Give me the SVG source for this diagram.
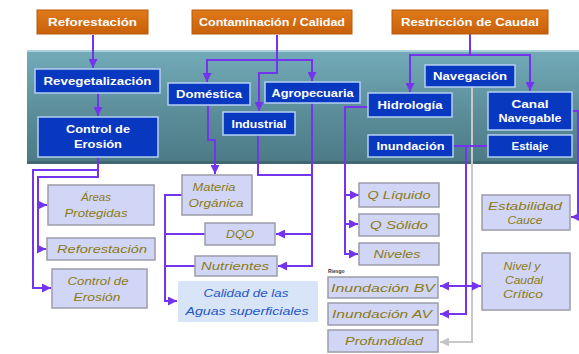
<svg xmlns="http://www.w3.org/2000/svg" width="579" height="354" viewBox="0 0 579 354">
<defs>
<linearGradient id="pg" x1="0" y1="0" x2="0" y2="1">
<stop offset="0" stop-color="#74abb9"/>
<stop offset="0.5" stop-color="#5d909c"/>
<stop offset="1" stop-color="#4b7a84"/>
</linearGradient>
<linearGradient id="og" x1="0" y1="0" x2="0" y2="1">
<stop offset="0" stop-color="#e07a18"/>
<stop offset="1" stop-color="#c8600a"/>
</linearGradient>
<marker id="a" viewBox="0 0 10 10" refX="10" refY="5" markerWidth="9" markerHeight="9" markerUnits="userSpaceOnUse" orient="auto">
<path d="M0,0 L10,5 L0,10 z" fill="#7433ec"/>
</marker>
<marker id="g" viewBox="0 0 10 10" refX="10" refY="5" markerWidth="9" markerHeight="9" markerUnits="userSpaceOnUse" orient="auto">
<path d="M0,0 L10,5 L0,10 z" fill="#c4c4c4"/>
</marker>
</defs>
<style>
.or{fill:url(#og);stroke:#b85a0c;stroke-width:1}
.bl{fill:#0838c0;stroke:#b4d0f4;stroke-width:1.5}
.li{fill:#d2d6f6;stroke:#9c9caa;stroke-width:1.5}
.cq{fill:#d8e5f9}
.tw{font-family:"Liberation Sans",Arial,sans-serif;font-size:10px;font-weight:bold;fill:#ffffff;text-anchor:middle}
.ty{font-family:"Liberation Sans",Arial,sans-serif;font-size:10px;fill:#8a7a14;font-style:italic;text-anchor:middle}
.tb{font-family:"Liberation Sans",Arial,sans-serif;font-size:10.5px;fill:#1f55c8;font-style:italic;text-anchor:middle}
.c{fill:none;stroke:#7433ec;stroke-width:2}
.cg{fill:none;stroke:#c8c8c8;stroke-width:2}
</style>
<rect x="0" y="0" width="579" height="354" fill="#ffffff"/>
<rect x="27" y="50" width="552" height="114" fill="url(#pg)"/>
<rect x="27" y="50" width="552" height="2" fill="#a9d2dc"/>
<rect x="27" y="161" width="552" height="3" fill="#3f6870"/>
<g id="connectors">
<path class="c" d="M93,35 V68" marker-end="url(#a)"/>
<path class="c" d="M98,93 V116" marker-end="url(#a)"/>
<path class="c" d="M98,157 V170 H33 V288 H51" marker-end="url(#a)"/>
<path class="c" d="M98,170 V177 H38 V249 H46" marker-end="url(#a)"/>
<path class="c" d="M38,205 H47" marker-end="url(#a)"/>
<path class="c" d="M277,35 V60 H207 V82" marker-end="url(#a)"/>
<path class="c" d="M277,60 H312 V81" marker-end="url(#a)"/>
<path class="c" d="M277,60 V73 H259 V111" marker-end="url(#a)"/>
<path class="c" d="M208,105 V140 H215 V174" marker-end="url(#a)"/>
<path class="c" d="M258,135 V175 H312"/>
<path class="c" d="M312,103 V266 H278" marker-end="url(#a)"/>
<path class="c" d="M312,234 H276" marker-end="url(#a)"/>
<path class="c" d="M182,195 H165 V301 H177" marker-end="url(#a)"/>
<path class="c" d="M205,234 H165"/>
<path class="c" d="M195,266 H165"/>
<path class="c" d="M470,34 V55 H410 V92" marker-end="url(#a)"/>
<path class="c" d="M470,55 H530 V91" marker-end="url(#a)"/>
<path class="c" d="M368,107 H345 V254 H358" marker-end="url(#a)"/>
<path class="c" d="M345,195 H359" marker-end="url(#a)"/>
<path class="c" d="M345,224 H358" marker-end="url(#a)"/>
<path class="cg" d="M472,87 V342 H440" marker-end="url(#g)"/>
<path class="c" d="M453,146 H488"/>
<path class="c" d="M466,146 V314 H440" marker-end="url(#a)"/>
<path class="c" d="M466,286 H440" marker-end="url(#a)"/>
<path class="c" d="M466,286 H481" marker-end="url(#a)"/>
<path class="c" d="M572,111 H578 V217 H571" marker-end="url(#a)"/>
</g>
<g id="n-reforestacion-top"><rect class="or" x="37" y="10" width="111" height="24"/><text class="tw" x="92.5" y="25.5" textLength="89" lengthAdjust="spacingAndGlyphs">Reforestación</text></g>
<g id="n-contaminacion"><rect class="or" x="192" y="10" width="160" height="24"/><text class="tw" x="272" y="25.5" textLength="146" lengthAdjust="spacingAndGlyphs">Contaminación / Calidad</text></g>
<g id="n-restriccion"><rect class="or" x="392" y="10" width="156" height="24"/><text class="tw" x="470" y="25.5" textLength="138" lengthAdjust="spacingAndGlyphs">Restricción de Caudal</text></g>
<g id="n-revegetalizacion"><rect class="bl" x="35" y="69" width="125" height="24"/><text class="tw" x="97.5" y="85" textLength="108" lengthAdjust="spacingAndGlyphs">Revegetalización</text></g>
<g id="n-control-erosion"><rect class="bl" x="38" y="117" width="120" height="40"/><text class="tw" x="98" y="133" textLength="64" lengthAdjust="spacingAndGlyphs">Control de</text><text class="tw" x="98" y="148" textLength="48" lengthAdjust="spacingAndGlyphs">Erosión</text></g>
<g id="n-domestica"><rect class="bl" x="168" y="83" width="82" height="22"/><text class="tw" x="209" y="98" textLength="66" lengthAdjust="spacingAndGlyphs">Doméstica</text></g>
<g id="n-agropecuaria"><rect class="bl" x="265" y="82" width="95" height="21"/><text class="tw" x="312.5" y="96.5" textLength="82" lengthAdjust="spacingAndGlyphs">Agropecuaria</text></g>
<g id="n-industrial"><rect class="bl" x="223" y="112" width="72" height="23"/><text class="tw" x="259" y="127.5" textLength="55" lengthAdjust="spacingAndGlyphs">Industrial</text></g>
<g id="n-navegacion"><rect class="bl" x="425" y="65" width="90" height="22"/><text class="tw" x="470" y="80" textLength="74" lengthAdjust="spacingAndGlyphs">Navegación</text></g>
<g id="n-hidrologia"><rect class="bl" x="368" y="93" width="84" height="24"/><text class="tw" x="410" y="109" textLength="65" lengthAdjust="spacingAndGlyphs">Hidrología</text></g>
<g id="n-canal"><rect class="bl" x="488" y="92" width="84" height="38"/><text class="tw" x="530" y="107.5" textLength="37" lengthAdjust="spacingAndGlyphs">Canal</text><text class="tw" x="530" y="122" textLength="63" lengthAdjust="spacingAndGlyphs">Navegable</text></g>
<g id="n-inundacion"><rect class="bl" x="368" y="135" width="85" height="22"/><text class="tw" x="410.5" y="150" textLength="68" lengthAdjust="spacingAndGlyphs">Inundación</text></g>
<g id="n-estiaje"><rect class="bl" x="488" y="135" width="84" height="22"/><text class="tw" x="530" y="150" textLength="37" lengthAdjust="spacingAndGlyphs">Estiaje</text></g>
<g id="n-areas"><rect class="li" x="48" y="185" width="106" height="40"/><text class="ty" x="96" y="201" textLength="30" lengthAdjust="spacingAndGlyphs">Áreas</text><text class="ty" x="96" y="217" textLength="63" lengthAdjust="spacingAndGlyphs">Protegidas</text></g>
<g id="n-reforestacion"><rect class="li" x="47" y="238" width="108" height="22"/><text class="ty" x="102" y="253" textLength="90" lengthAdjust="spacingAndGlyphs">Reforestación</text></g>
<g id="n-control-erosion-2"><rect class="li" x="52" y="269" width="95" height="39"/><text class="ty" x="98" y="285" textLength="61" lengthAdjust="spacingAndGlyphs">Control de</text><text class="ty" x="97" y="301" textLength="47" lengthAdjust="spacingAndGlyphs">Erosión</text></g>
<g id="n-materia"><rect class="li" x="182" y="175" width="70" height="40"/><text class="ty" x="214" y="191" textLength="43" lengthAdjust="spacingAndGlyphs">Materia</text><text class="ty" x="216" y="207" textLength="55" lengthAdjust="spacingAndGlyphs">Orgánica</text></g>
<g id="n-dqo"><rect class="li" x="205" y="223" width="70" height="22"/><text class="ty" x="240" y="238" textLength="28" lengthAdjust="spacingAndGlyphs">DQO</text></g>
<g id="n-nutrientes"><rect class="li" x="195" y="256" width="82" height="20"/><text class="ty" x="235" y="270" textLength="68" lengthAdjust="spacingAndGlyphs">Nutrientes</text></g>
<g id="n-calidad"><rect class="cq" x="178" y="281" width="140" height="41"/><text class="tb" x="246" y="297" textLength="85" lengthAdjust="spacingAndGlyphs">Calidad de las</text><text class="tb" x="247" y="315" textLength="123" lengthAdjust="spacingAndGlyphs">Aguas superficiales</text></g>
<g id="n-qliquido"><rect class="li" x="359" y="183" width="80" height="24"/><text class="ty" x="399" y="199" textLength="63" lengthAdjust="spacingAndGlyphs">Q Líquido</text></g>
<g id="n-qsolido"><rect class="li" x="359" y="214" width="80" height="22"/><text class="ty" x="399" y="229" textLength="58" lengthAdjust="spacingAndGlyphs">Q Sólido</text></g>
<g id="n-niveles"><rect class="li" x="359" y="243" width="80" height="22"/><text class="ty" x="397" y="258" textLength="47" lengthAdjust="spacingAndGlyphs">Niveles</text></g>
<text x="328" y="273" font-family="Liberation Sans, Arial, sans-serif" font-size="5px" font-weight="bold" fill="#333333">Riesgo</text>
<g id="n-inund-bv"><rect class="li" x="328" y="277" width="110" height="21"/><text class="ty" x="383" y="291.5" textLength="104" lengthAdjust="spacingAndGlyphs">Inundación BV</text></g>
<g id="n-inund-av"><rect class="li" x="328" y="303" width="110" height="22"/><text class="ty" x="382" y="318" textLength="100" lengthAdjust="spacingAndGlyphs">Inundación AV</text></g>
<g id="n-profundidad"><rect class="li" x="328" y="330" width="110" height="22"/><text class="ty" x="384" y="345" textLength="78" lengthAdjust="spacingAndGlyphs">Profundidad</text></g>
<g id="n-estabilidad"><rect class="li" x="482" y="195" width="88" height="35"/><text class="ty" x="525" y="209.5" textLength="74" lengthAdjust="spacingAndGlyphs">Estabilidad</text><text class="ty" x="525" y="224" textLength="35" lengthAdjust="spacingAndGlyphs">Cauce</text></g>
<g id="n-nivel-caudal"><rect class="li" x="482" y="253" width="88" height="57"/><text class="ty" x="522" y="270" textLength="37" lengthAdjust="spacingAndGlyphs">Nivel y</text><text class="ty" x="524" y="284" textLength="38" lengthAdjust="spacingAndGlyphs">Caudal</text><text class="ty" x="523" y="298" textLength="40" lengthAdjust="spacingAndGlyphs">Crítico</text></g>
</svg>
